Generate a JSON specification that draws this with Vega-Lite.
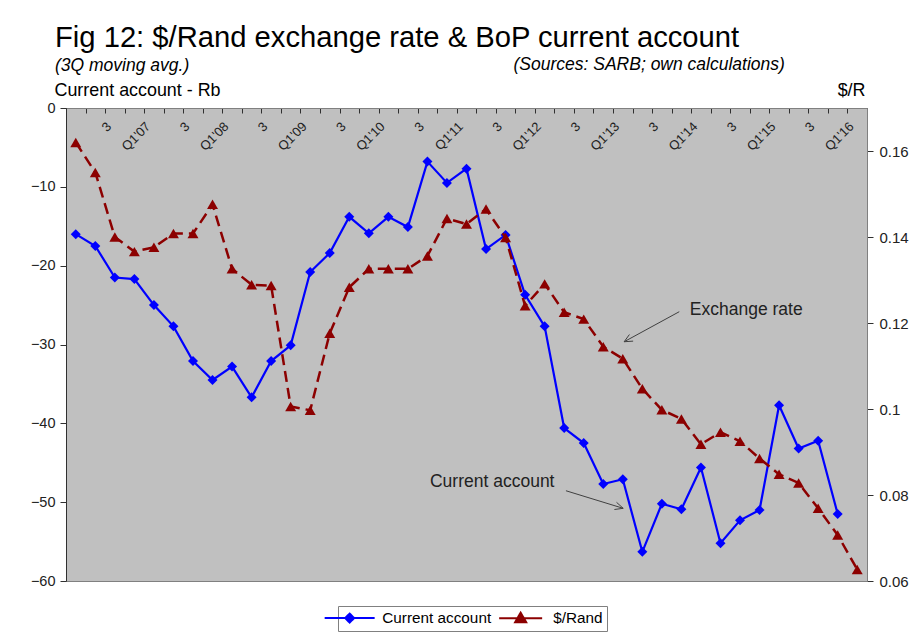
{
  "$schema": "https://vega.github.io/schema/vega-lite/v6.json",
  "width": 801,
  "height": 473,
  "autosize": {"type": "none"},
  "padding": {"left": 66, "top": 108, "right": 53, "bottom": 60},
  "background": "white",
  "config": {
    "font": "Liberation Sans",
    "view": {"fill": "#C0C0C0", "stroke": "#808080", "strokeWidth": 1}
  },
  "title": {
    "text": "Fig 12: $/Rand exchange rate & BoP current account",
    "subtitle": "(3Q moving avg.)",
    "anchor": "start",
    "frame": "group",
    "dx": -11,
    "dy": 29,
    "offset": 10,
    "font": "Liberation Sans",
    "fontSize": 29.2,
    "fontWeight": "normal",
    "color": "black",
    "subtitleFont": "Liberation Sans",
    "subtitleFontSize": 17.5,
    "subtitleFontStyle": "italic",
    "subtitleColor": "black",
    "subtitlePadding": 3
  },
  "datasets": {
    "main": [
      {"q": "2006Q1", "ca": -16.0, "fx": 0.162},
      {"q": "2006Q2", "ca": -17.5, "fx": 0.155},
      {"q": "2006Q3", "ca": -21.5, "fx": 0.140},
      {"q": "2006Q4", "ca": -21.7, "fx": 0.1366},
      {"q": "2007Q1", "ca": -25.0, "fx": 0.1376},
      {"q": "2007Q2", "ca": -27.7, "fx": 0.1408},
      {"q": "2007Q3", "ca": -32.1, "fx": 0.1408},
      {"q": "2007Q4", "ca": -34.5, "fx": 0.1476},
      {"q": "2008Q1", "ca": -32.8, "fx": 0.1326},
      {"q": "2008Q2", "ca": -36.7, "fx": 0.1289},
      {"q": "2008Q3", "ca": -32.1, "fx": 0.1287},
      {"q": "2008Q4", "ca": -30.1, "fx": 0.1006},
      {"q": "2009Q1", "ca": -20.8, "fx": 0.0997},
      {"q": "2009Q2", "ca": -18.4, "fx": 0.1176},
      {"q": "2009Q3", "ca": -13.8, "fx": 0.1283},
      {"q": "2009Q4", "ca": -15.9, "fx": 0.1326},
      {"q": "2010Q1", "ca": -13.8, "fx": 0.1326},
      {"q": "2010Q2", "ca": -15.1, "fx": 0.1326},
      {"q": "2010Q3", "ca": -6.8, "fx": 0.1356},
      {"q": "2010Q4", "ca": -9.5, "fx": 0.1443},
      {"q": "2011Q1", "ca": -7.7, "fx": 0.1430},
      {"q": "2011Q2", "ca": -17.9, "fx": 0.1465},
      {"q": "2011Q3", "ca": -16.1, "fx": 0.1399},
      {"q": "2011Q4", "ca": -23.7, "fx": 0.1240},
      {"q": "2012Q1", "ca": -27.7, "fx": 0.1291},
      {"q": "2012Q2", "ca": -40.6, "fx": 0.1225},
      {"q": "2012Q3", "ca": -42.5, "fx": 0.1209},
      {"q": "2012Q4", "ca": -47.7, "fx": 0.1145},
      {"q": "2013Q1", "ca": -47.1, "fx": 0.1117},
      {"q": "2013Q2", "ca": -56.3, "fx": 0.1047},
      {"q": "2013Q3", "ca": -50.2, "fx": 0.0998},
      {"q": "2013Q4", "ca": -50.9, "fx": 0.0977},
      {"q": "2014Q1", "ca": -45.6, "fx": 0.0918},
      {"q": "2014Q2", "ca": -55.2, "fx": 0.0946},
      {"q": "2014Q3", "ca": -52.3, "fx": 0.0925},
      {"q": "2014Q4", "ca": -51.0, "fx": 0.0885},
      {"q": "2015Q1", "ca": -37.7, "fx": 0.0848},
      {"q": "2015Q2", "ca": -43.2, "fx": 0.0828},
      {"q": "2015Q3", "ca": -42.2, "fx": 0.0769},
      {"q": "2015Q4", "ca": -51.5, "fx": 0.0707},
      {"q": "2016Q1", "ca": null, "fx": 0.0627}
    ],
    "notes": [
      {"x": 31.43, "y": -25.62, "text": "Exchange rate"},
      {"x": 18.13, "y": -47.44, "text": "Current account"}
    ],
    "arrows": [
      {"x": 30.89, "y": -25.84, "x2": 28.07, "y2": -29.65},
      {"x": 28.07, "y": -29.65, "x2": 28.53, "y2": -29.57},
      {"x": 28.07, "y": -29.65, "x2": 28.34, "y2": -28.73},
      {"x": 25.09, "y": -48.55, "x2": 28.02, "y2": -50.78},
      {"x": 28.02, "y": -50.78, "x2": 27.68, "y2": -50.02},
      {"x": 28.02, "y": -50.78, "x2": 27.57, "y2": -50.93}
    ]
  },
  "layer": [
    {
      "data": {"name": "main"},
      "encoding": {
        "x": {
          "field": "q",
          "type": "ordinal",
          "sort": null,
          "scale": {"paddingInner": 0, "paddingOuter": 0},
          "axis": {
            "orient": "bottom",
            "offset": -473,
            "title": "(Sources: SARB; own calculations)",
            "titleX": 447,
            "titleY": -39,
            "titleAlign": "left",
            "titleAngle": 0,
            "titleBaseline": "alphabetic",
            "titleFontSize": 17.5,
            "titleFontStyle": "italic",
            "titleFontWeight": "normal",
            "titleColor": "black",
            "labelExpr": "datum.value == '2006Q1' ? '' : substring(datum.value, 4) == 'Q1' ? \"Q1'\" + substring(datum.value, 2, 4) : substring(datum.value, 4) == 'Q3' ? '3' : ''",
            "labelAngle": -45,
            "labelAlign": "right",
            "labelBaseline": "middle",
            "labelFontSize": 13,
            "labelColor": "#222222",
            "labelPadding": 11,
            "labelOffset": -6,
            "labelOverlap": false,
            "labelBound": false,
            "labelFlush": false,
            "tickBand": "extent",
            "tickSize": 5,
            "tickColor": "#303030",
            "domainColor": "#808080",
            "grid": false
          }
        }
      },
      "layer": [
        {
          "layer": [
            {
              "mark": {"type": "line", "strokeWidth": 2.2},
              "encoding": {
                "y": {"field": "ca", "type": "quantitative"},
                "color": {
                  "datum": "Current account",
                  "type": "nominal",
                  "scale": {"domain": ["Current account", "$/Rand"], "range": ["#0000FF", "#8C0000"]},
                  "legend": {
                    "title": null,
                    "orient": "none",
                    "legendX": 272,
                    "legendY": 498,
                    "direction": "horizontal",
                    "strokeColor": "#808080",
                    "fillColor": "white",
                    "padding": 4,
                    "labelFontSize": 15.3,
                    "labelColor": "black",
                    "labelOffset": 25,
                    "columnPadding": 3,
                    "symbolSize": 100,
                    "symbolStrokeWidth": 2,
                    "encoding": {
                      "symbols": {
                        "shape": {"condition": {"test": "datum.value === 'Current account'", "value": "M-5,0H5M0,-0.9L0.9,0L0,0.9L-0.9,0Z"}, "value": "M-4.3,0H4.3M0,-1.1L1.1,0.8L-1.1,0.8Z"},
                        "fill": {"condition": {"test": "datum.value === 'Current account'", "value": "#0000FF"}, "value": "#8C0000"},
                        "stroke": {"condition": {"test": "datum.value === 'Current account'", "value": "#0000FF"}, "value": "#8C0000"},
                        "strokeDash": {"value": [1, 0]},
                        "strokeWidth": {"value": 2}
                      }
                    }
                  }
                }
              }
            },
            {
              "mark": {"type": "point", "shape": "diamond", "size": 100, "filled": true, "color": "#0000FF", "opacity": 1},
              "encoding": {"y": {"field": "ca", "type": "quantitative"}}
            }
          ],
          "encoding": {
            "y": {
              "field": "ca",
              "type": "quantitative",
              "scale": {"domain": [-60, 0], "nice": false, "zero": false},
              "axis": {
                "orient": "left",
                "title": "Current account - Rb",
                "titleAngle": 0,
                "titleX": -12,
                "titleY": -13,
                "titleAlign": "left",
                "titleBaseline": "alphabetic",
                "titleFontSize": 17.9,
                "titleFontWeight": "normal",
                "titleColor": "black",
                "values": [-60, -50, -40, -30, -20, -10, 0],
                "labelFontSize": 14.5,
                "labelColor": "#222222",
                "labelPadding": 5,
                "tickSize": 6,
                "tickColor": "#303030",
                "domainColor": "#303030",
                "grid": false
              }
            }
          }
        },
        {
          "layer": [
            {
              "mark": {"type": "line", "strokeWidth": 2.5, "strokeDash": [11, 6]},
              "encoding": {
                "y": {"field": "fx", "type": "quantitative"},
                "color": {"datum": "$/Rand", "type": "nominal"}
              }
            },
            {
              "mark": {"type": "point", "shape": "triangle-up", "size": 120, "filled": true, "color": "#8C0000", "opacity": 1},
              "encoding": {"y": {"field": "fx", "type": "quantitative"}}
            }
          ],
          "encoding": {
            "y": {
              "field": "fx",
              "type": "quantitative",
              "scale": {"domain": [0.06, 0.17], "nice": false, "zero": false},
              "axis": {
                "orient": "right",
                "title": "$/R",
                "titleAngle": 0,
                "titleX": -2,
                "titleY": -13,
                "titleAlign": "right",
                "titleBaseline": "alphabetic",
                "titleFontSize": 17.9,
                "titleFontWeight": "normal",
                "titleColor": "black",
                "values": [0.06, 0.08, 0.1, 0.12, 0.14, 0.16],
                "format": ".2~f",
                "labelFontSize": 15,
                "labelColor": "#222222",
                "labelPadding": 6,
                "tickSize": 6,
                "tickColor": "#303030",
                "domainColor": "#808080",
                "grid": false
              }
            }
          }
        }
      ],
      "resolve": {"scale": {"y": "independent"}}
    },
    {
      "layer": [
        {
          "data": {"name": "arrows"},
          "mark": {"type": "rule", "color": "#404040", "strokeWidth": 1},
          "encoding": {
            "x": {"field": "x", "type": "quantitative", "scale": {"domain": [-0.5, 40.5], "nice": false, "zero": false}, "axis": null},
            "x2": {"field": "x2"},
            "y": {"field": "y", "type": "quantitative", "scale": {"domain": [-60, 0], "nice": false, "zero": false}, "axis": null},
            "y2": {"field": "y2"}
          }
        },
        {
          "data": {"name": "notes"},
          "mark": {"type": "text", "align": "left", "baseline": "middle", "fontSize": 17.5, "color": "#222222"},
          "encoding": {
            "x": {"field": "x", "type": "quantitative", "scale": {"domain": [-0.5, 40.5], "nice": false, "zero": false}, "axis": null},
            "y": {"field": "y", "type": "quantitative", "scale": {"domain": [-60, 0], "nice": false, "zero": false}, "axis": null},
            "text": {"field": "text"}
          }
        }
      ]
    }
  ],
  "resolve": {"scale": {"x": "independent", "y": "independent"}}
}
